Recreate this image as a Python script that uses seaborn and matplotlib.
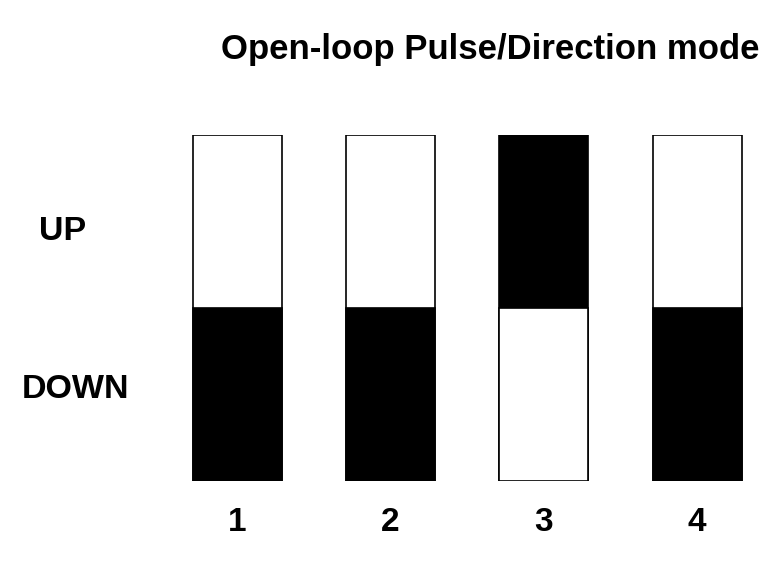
import matplotlib
matplotlib.use("Agg")
import matplotlib.pyplot as plt
import seaborn as sns
import pandas as pd

# ---- data ----
switches = ["1", "2", "3", "4"]
states = ["DOWN", "DOWN", "UP", "DOWN"]
positions = ["UP", "DOWN"]
title = "Open-loop Pulse/Direction mode"

sns.set_theme(style="white")
plt.rcParams["font.family"] = ["Liberation Sans", "DejaVu Sans"]
plt.rcParams["text.color"] = "black"
plt.rcParams["xtick.color"] = "black"

df = pd.DataFrame({"switch": switches, "state": states})
df["full"] = 2.0   # upper half spans 1..2 (drawn as full bar, lower half overlays)
df["lower"] = 1.0

upper_colors = ["black" if s == "UP" else "white" for s in states]
lower_colors = ["black" if s == "DOWN" else "white" for s in states]

fig = plt.figure(figsize=(7.76, 5.62), dpi=100)
ax = fig.add_axes([0.2070, 1 - 481 / 562, 0.9947 - 0.2044, (481 - 135) / 562])

sns.barplot(data=df, x="switch", y="full", hue="switch", palette=upper_colors,
            legend=False, width=0.58, saturation=1, edgecolor="black",
            linewidth=1.2, ax=ax)
sns.barplot(data=df, x="switch", y="lower", hue="switch", palette=lower_colors,
            legend=False, width=0.58, saturation=1, edgecolor="black",
            linewidth=1.2, ax=ax)

ax.set_ylim(0, 2)
ax.set_xlim(-0.5, 3.5)
ax.set_xlabel("")
ax.set_ylabel("")
ax.set_yticks([])
ax.tick_params(axis="x", length=0, pad=18.5, labelsize=24, labelcolor="black")
for lab in ax.get_xticklabels():
    lab.set_fontweight("bold")
for sp in ax.spines.values():
    sp.set_visible(False)

fig.text(490 / 776, 1 - 49 / 562, title, ha="center", va="center",
         fontsize=25, fontweight="bold", color="black")
fig.text(63 / 776, 1 - 232 / 562, positions[0], ha="center", va="center",
         fontsize=24.5, fontweight="bold", color="black")
fig.text(75 / 776, 1 - 389 / 562, positions[1], ha="center", va="center",
         fontsize=24.5, fontweight="bold", color="black")

fig.savefig("out.png", dpi=100)
